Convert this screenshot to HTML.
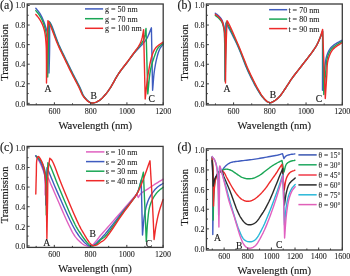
<!DOCTYPE html>
<html><head><meta charset="utf-8"><style>
html,body{margin:0;padding:0;background:#fff;width:350px;height:276px;overflow:hidden}
svg{display:block;filter:blur(0.3px)}
text{font-family:"Liberation Serif", serif;fill:#1a1a1a;stroke:#1a1a1a;stroke-width:0.08px}
.ax,.pl,.lb{stroke-width:0.15px}
.tk{font-size:8px}
.ax{font-size:10.6px}
.pl{font-size:11.8px}
.lg{font-size:8px}
.lb{font-size:9.6px}
.lgd{font-size:7.4px}
</style></head><body>
<svg width="350" height="276" viewBox="0 0 350 276">
<rect width="350" height="276" fill="#fff"/>
<path d="M35.80 8.20 36.46 9.02 37.13 9.84 37.81 10.65 38.47 11.47 39.10 12.32 39.70 13.20 40.28 14.14 40.83 15.11 41.35 16.11 41.85 17.12 42.33 18.15 42.80 19.20 43.27 20.30 43.72 21.41 44.15 22.53 44.57 23.69 44.98 24.91 45.40 26.20 45.97 27.98 46.58 29.87 47.18 31.85 47.74 33.91 48.23 36.03 48.60 38.20 48.87 40.82 48.98 43.55 48.99 46.37 48.95 49.24 48.90 52.13 48.90 55.00 48.93 57.96 48.95 60.95 48.96 63.96 48.97 66.98 48.99 69.99 49.00 73.00 49.11 69.19 49.22 65.42 49.34 61.65 49.44 57.84 49.53 53.97 49.60 50.00 49.64 45.47 49.65 40.81 49.64 36.08 49.63 31.31 49.61 26.53 49.60 21.80 49.84 22.19 50.07 22.53 50.30 22.88 50.55 23.27 50.81 23.73 51.10 24.30 52.09 26.62 53.31 29.84 54.69 33.62 56.14 37.63 57.60 41.54 59.00 45.00 60.15 47.62 61.31 50.12 62.48 52.54 63.65 54.92 64.83 57.30 66.00 59.70 67.16 62.11 68.33 64.52 69.50 66.93 70.67 69.32 71.84 71.68 73.00 74.00 74.10 76.15 75.22 78.28 76.34 80.39 77.44 82.46 78.50 84.50 79.50 86.50 80.31 88.27 81.05 90.05 81.76 91.81 82.48 93.50 83.24 95.07 84.10 96.50 84.87 97.56 85.69 98.57 86.54 99.51 87.41 100.35 88.27 101.09 89.10 101.70 89.67 102.06 90.22 102.36 90.76 102.61 91.32 102.80 91.89 102.93 92.50 103.00 93.27 102.98 94.08 102.87 94.92 102.67 95.76 102.40 96.60 102.07 97.40 101.70 98.25 101.23 99.06 100.70 99.87 100.09 100.67 99.42 101.48 98.69 102.30 97.90 103.40 96.78 104.52 95.56 105.65 94.24 106.79 92.82 107.94 91.31 109.10 89.70 110.65 87.32 112.22 84.65 113.81 81.81 115.41 78.92 117.04 76.11 118.70 73.50 120.27 71.27 121.90 69.10 123.56 66.99 125.19 64.95 126.75 62.98 128.20 61.10 129.24 59.68 130.21 58.32 131.13 57.00 132.05 55.72 132.99 54.46 134.00 53.20 135.10 51.95 136.26 50.72 137.44 49.52 138.63 48.32 139.79 47.12 140.90 45.90 141.93 44.74 142.95 43.60 143.95 42.45 144.91 41.28 145.83 40.03 146.70 38.70 147.60 37.05 148.41 35.28 149.17 33.43 149.91 31.54 150.64 29.65 151.40 27.80 152.60 90.30 152.90 86.88 153.17 83.41 153.44 79.95 153.73 76.53 154.08 73.20 154.50 70.00 154.93 67.29 155.41 64.59 155.93 61.95 156.48 59.44 157.04 57.10 157.60 55.00 157.97 53.73 158.33 52.56 158.70 51.46 159.09 50.43 159.52 49.45 160.00 48.50 160.47 47.71 160.99 46.97 161.54 46.27 162.10 45.58 162.65 44.90 163.20 44.20" stroke="#3f5cbf" stroke-width="1.4" fill="none" stroke-linejoin="round" stroke-linecap="round"/>
<path d="M35.80 10.60 36.46 11.42 37.13 12.24 37.81 13.05 38.47 13.87 39.10 14.72 39.70 15.60 40.28 16.54 40.84 17.51 41.36 18.50 41.87 19.52 42.35 20.55 42.80 21.60 43.24 22.70 43.66 23.80 44.04 24.93 44.41 26.09 44.76 27.31 45.10 28.60 45.54 30.39 45.96 32.31 46.37 34.31 46.73 36.39 47.05 38.49 47.30 40.60 47.48 42.88 47.57 45.18 47.60 47.52 47.60 49.92 47.59 52.41 47.60 55.00 47.63 58.40 47.66 61.99 47.67 65.71 47.68 69.49 47.69 73.28 47.70 77.00 47.80 72.51 47.91 68.03 48.01 63.55 48.12 59.06 48.21 54.55 48.30 50.00 48.38 45.25 48.45 40.47 48.51 35.66 48.57 30.83 48.64 26.01 48.70 21.20 48.94 21.59 49.17 21.93 49.40 22.28 49.64 22.67 49.91 23.13 50.20 23.70 51.23 26.08 52.52 29.39 53.97 33.30 55.51 37.43 57.05 41.45 58.50 45.00 59.67 47.63 60.83 50.13 62.00 52.55 63.16 54.93 64.33 57.30 65.50 59.70 66.66 62.11 67.83 64.52 69.00 66.93 70.17 69.32 71.34 71.68 72.50 74.00 73.60 76.15 74.72 78.28 75.83 80.39 76.93 82.46 77.99 84.50 79.00 86.50 79.83 88.27 80.59 90.06 81.33 91.81 82.08 93.50 82.87 95.07 83.75 96.50 84.54 97.56 85.38 98.57 86.25 99.51 87.13 100.35 88.01 101.09 88.85 101.70 89.42 102.06 89.97 102.36 90.52 102.61 91.07 102.80 91.64 102.93 92.25 103.00 93.03 102.99 93.86 102.87 94.71 102.67 95.58 102.40 96.43 102.07 97.25 101.70 98.12 101.24 98.96 100.70 99.80 100.09 100.62 99.42 101.45 98.69 102.30 97.90 103.41 96.79 104.53 95.57 105.66 94.24 106.80 92.82 107.94 91.31 109.10 89.70 110.65 87.32 112.23 84.65 113.81 81.81 115.42 78.93 117.05 76.12 118.70 73.50 120.25 71.27 121.86 69.10 123.48 66.99 125.08 64.95 126.62 62.98 128.05 61.10 129.10 59.68 130.09 58.32 131.04 57.02 131.97 55.74 132.90 54.47 133.85 53.20 134.80 51.96 135.77 50.73 136.74 49.51 137.69 48.30 138.62 47.10 139.50 45.90 140.29 44.83 141.08 43.81 141.84 42.79 142.56 41.74 143.22 40.62 143.80 39.40 144.35 37.78 144.77 36.02 145.10 34.16 145.39 32.26 145.67 30.36 146.00 28.50 147.80 93.90 148.21 89.85 148.59 85.72 148.96 81.58 149.37 77.53 149.87 73.64 150.50 70.00 151.12 67.21 151.82 64.50 152.57 61.89 153.36 59.42 154.14 57.12 154.90 55.00 155.39 53.64 155.84 52.38 156.30 51.19 156.79 50.08 157.35 49.01 158.00 48.00 158.74 47.09 159.57 46.26 160.46 45.48 161.39 44.73 162.31 43.98 163.20 43.20" stroke="#1aa655" stroke-width="1.4" fill="none" stroke-linejoin="round" stroke-linecap="round"/>
<path d="M35.80 14.40 36.46 15.22 37.13 16.04 37.81 16.85 38.47 17.67 39.10 18.52 39.70 19.40 40.28 20.34 40.85 21.31 41.38 22.30 41.89 23.31 42.36 24.35 42.80 25.40 43.22 26.50 43.59 27.60 43.93 28.72 44.24 29.89 44.53 31.11 44.80 32.40 45.11 34.21 45.38 36.18 45.60 38.23 45.79 40.33 45.96 42.40 46.10 44.40 46.20 46.14 46.27 47.79 46.32 49.42 46.35 51.12 46.37 52.95 46.40 55.00 46.44 58.89 46.47 63.35 46.48 68.17 46.48 73.17 46.49 78.18 46.50 83.00 46.60 77.48 46.69 71.93 46.78 66.37 46.88 60.85 46.99 55.38 47.10 50.00 47.22 45.03 47.35 40.13 47.49 35.29 47.62 30.47 47.76 25.65 47.90 20.80 48.14 21.19 48.37 21.53 48.60 21.88 48.84 22.27 49.10 22.73 49.40 23.30 50.46 25.72 51.80 29.10 53.31 33.08 54.91 37.30 56.51 41.39 58.00 45.00 59.18 47.63 60.34 50.14 61.51 52.56 62.67 54.93 63.83 57.30 65.00 59.70 66.16 62.11 67.33 64.52 68.50 66.93 69.67 69.32 70.84 71.68 72.00 74.00 73.10 76.15 74.21 78.28 75.32 80.39 76.41 82.47 77.48 84.50 78.50 86.50 79.35 88.27 80.13 90.06 80.90 91.81 81.67 93.50 82.50 95.08 83.40 96.50 84.21 97.56 85.07 98.57 85.96 99.51 86.86 100.36 87.75 101.09 88.60 101.70 89.17 102.05 89.72 102.36 90.27 102.61 90.82 102.80 91.39 102.93 92.00 103.00 92.79 102.99 93.63 102.87 94.50 102.67 95.39 102.40 96.26 102.07 97.10 101.70 97.99 101.24 98.86 100.70 99.72 100.10 100.58 99.43 101.43 98.69 102.30 97.90 103.42 96.79 104.54 95.57 105.67 94.25 106.80 92.82 107.94 91.31 109.10 89.70 110.66 87.32 112.23 84.65 113.82 81.81 115.43 78.93 117.06 76.12 118.70 73.50 120.23 71.28 121.81 69.10 123.40 66.99 124.97 64.95 126.48 62.98 127.90 61.10 128.95 59.68 129.95 58.33 130.91 57.02 131.85 55.75 132.78 54.48 133.70 53.20 134.60 51.97 135.50 50.75 136.40 49.53 137.26 48.32 138.07 47.11 138.80 45.90 139.39 44.83 139.93 43.79 140.42 42.75 140.88 41.68 141.30 40.57 141.70 39.40 142.11 37.92 142.45 36.36 142.75 34.73 143.03 33.08 143.30 31.42 143.60 29.80 145.20 99.00 145.65 94.97 146.07 90.91 146.48 86.85 146.93 82.83 147.43 78.86 148.00 75.00 148.59 71.43 149.21 67.81 149.87 64.24 150.59 60.84 151.36 57.72 152.20 55.00 152.75 53.48 153.29 52.11 153.85 50.85 154.47 49.69 155.18 48.58 156.00 47.50 157.01 46.45 158.15 45.49 159.39 44.60 160.68 43.75 161.96 42.89 163.20 42.00" stroke="#ee2a2a" stroke-width="1.4" fill="none" stroke-linejoin="round" stroke-linecap="round"/>
<path d="M215.30 13.20 215.84 13.61 216.38 14.00 216.92 14.39 217.46 14.80 217.98 15.23 218.50 15.70 219.07 16.27 219.65 16.89 220.22 17.54 220.76 18.21 221.26 18.90 221.70 19.60 222.06 20.28 222.36 20.98 222.63 21.69 222.87 22.41 223.09 23.15 223.30 23.90 223.52 24.69 223.71 25.49 223.89 26.31 224.05 27.14 224.19 28.00 224.30 28.90 224.40 30.01 224.45 31.14 224.47 32.32 224.47 33.54 224.48 34.83 224.50 36.20 224.55 38.19 224.60 40.28 224.66 42.50 224.71 44.85 224.76 47.34 224.80 50.00 224.85 54.33 224.89 59.15 224.92 64.28 224.94 69.57 224.97 74.87 225.00 80.00 225.08 74.98 225.17 69.94 225.25 64.89 225.34 59.87 225.42 54.90 225.50 50.00 225.57 45.45 225.64 40.95 225.70 36.51 225.77 32.08 225.83 27.65 225.90 23.20 226.09 23.48 226.27 23.72 226.44 23.97 226.63 24.25 226.85 24.58 227.10 25.00 228.25 27.05 229.83 29.98 231.67 33.51 233.62 37.37 235.55 41.29 237.30 45.00 239.02 48.94 240.71 53.10 242.37 57.34 243.98 61.49 245.53 65.39 247.00 68.90 247.98 71.10 248.90 73.12 249.79 75.03 250.68 76.86 251.57 78.67 252.50 80.50 253.42 82.28 254.35 84.06 255.30 85.82 256.24 87.53 257.18 89.16 258.10 90.70 258.82 91.87 259.52 92.98 260.21 94.05 260.92 95.07 261.64 96.05 262.40 97.00 263.14 97.88 263.92 98.76 264.71 99.61 265.51 100.39 266.31 101.06 267.10 101.60 267.68 101.92 268.26 102.18 268.84 102.39 269.43 102.53 270.01 102.60 270.60 102.60 271.24 102.49 271.89 102.27 272.54 101.97 273.19 101.61 273.84 101.21 274.50 100.80 275.30 100.27 276.10 99.69 276.91 99.05 277.71 98.36 278.51 97.61 279.30 96.80 280.26 95.70 281.21 94.48 282.15 93.18 283.09 91.81 284.04 90.41 285.00 89.00 286.08 87.38 287.14 85.73 288.22 84.02 289.33 82.27 290.51 80.47 291.80 78.60 293.69 76.01 295.83 73.21 298.09 70.31 300.34 67.45 302.45 64.77 304.30 62.40 305.38 61.01 306.36 59.76 307.28 58.58 308.18 57.43 309.07 56.25 310.00 55.00 311.07 53.55 312.17 52.05 313.28 50.52 314.36 48.97 315.38 47.43 316.30 45.90 317.05 44.52 317.74 43.13 318.37 41.73 318.97 40.35 319.54 39.00 320.10 37.70 320.56 36.62 320.99 35.57 321.39 34.55 321.79 33.54 322.19 32.52 322.60 31.50 322.50 90.30 322.83 86.87 323.15 83.37 323.47 79.88 323.80 76.45 324.14 73.13 324.50 70.00 324.78 67.58 325.04 65.22 325.30 62.95 325.61 60.77 326.00 58.68 326.50 56.70 327.00 55.14 327.54 53.63 328.14 52.19 328.80 50.83 329.52 49.56 330.30 48.40 331.02 47.51 331.80 46.72 332.62 45.99 333.48 45.31 334.37 44.65 335.30 44.00 336.36 43.31 337.49 42.66 338.65 42.04 339.84 41.43 341.03 40.82 342.20 40.20" stroke="#3f5cbf" stroke-width="1.4" fill="none" stroke-linejoin="round" stroke-linecap="round"/>
<path d="M215.30 15.50 215.84 15.91 216.38 16.30 216.92 16.69 217.46 17.10 217.98 17.53 218.50 18.00 219.07 18.57 219.65 19.19 220.22 19.84 220.76 20.51 221.26 21.20 221.70 21.90 222.06 22.58 222.36 23.28 222.63 23.99 222.87 24.71 223.09 25.45 223.30 26.20 223.51 26.99 223.71 27.79 223.88 28.61 224.04 29.44 224.18 30.30 224.30 31.20 224.42 32.31 224.50 33.47 224.56 34.66 224.61 35.89 224.65 37.17 224.70 38.50 224.76 40.20 224.82 41.93 224.87 43.73 224.92 45.65 224.96 47.72 225.00 50.00 225.05 54.35 225.09 59.35 225.12 64.78 225.15 70.42 225.17 76.07 225.20 81.50 225.28 76.23 225.36 70.93 225.43 65.63 225.51 60.36 225.60 55.14 225.70 50.00 225.80 45.24 225.92 40.54 226.04 35.90 226.16 31.27 226.28 26.65 226.40 22.00 226.59 22.28 226.77 22.52 226.94 22.77 227.13 23.04 227.35 23.38 227.60 23.80 228.76 25.96 230.32 29.07 232.16 32.84 234.11 36.95 236.04 41.10 237.80 45.00 239.50 48.98 241.19 53.16 242.85 57.39 244.47 61.52 246.02 65.40 247.50 68.90 248.48 71.10 249.40 73.12 250.30 75.03 251.19 76.86 252.08 78.67 253.00 80.50 253.91 82.28 254.83 84.06 255.75 85.82 256.68 87.53 257.60 89.16 258.50 90.70 259.20 91.87 259.89 92.98 260.57 94.04 261.25 95.07 261.96 96.05 262.70 97.00 263.42 97.88 264.17 98.76 264.93 99.61 265.71 100.39 266.48 101.06 267.25 101.60 267.81 101.91 268.36 102.17 268.91 102.38 269.47 102.53 270.03 102.60 270.60 102.60 271.24 102.49 271.88 102.28 272.53 101.98 273.19 101.62 273.84 101.21 274.50 100.80 275.30 100.27 276.10 99.69 276.91 99.05 277.71 98.36 278.51 97.61 279.30 96.80 280.26 95.70 281.21 94.48 282.15 93.18 283.09 91.81 284.04 90.41 285.00 89.00 286.08 87.38 287.14 85.73 288.22 84.02 289.33 82.27 290.51 80.47 291.80 78.60 293.69 76.01 295.83 73.21 298.09 70.31 300.34 67.45 302.45 64.77 304.30 62.40 305.38 61.01 306.36 59.76 307.28 58.58 308.18 57.43 309.07 56.25 310.00 55.00 311.07 53.55 312.17 52.05 313.28 50.52 314.36 48.97 315.38 47.43 316.30 45.90 317.05 44.52 317.74 43.14 318.38 41.75 318.98 40.38 319.55 39.03 320.10 37.70 320.56 36.55 320.99 35.43 321.40 34.32 321.80 33.21 322.19 32.11 322.60 31.00 323.80 94.50 324.12 90.68 324.43 86.79 324.75 82.89 325.06 79.07 325.38 75.42 325.70 72.00 325.91 69.52 326.07 67.13 326.24 64.85 326.45 62.65 326.75 60.54 327.20 58.50 327.69 56.79 328.26 55.11 328.89 53.49 329.59 51.96 330.36 50.56 331.20 49.30 331.95 48.41 332.75 47.63 333.60 46.92 334.49 46.27 335.39 45.64 336.30 45.00 337.24 44.35 338.21 43.74 339.21 43.15 340.21 42.57 341.21 41.99 342.20 41.40" stroke="#1aa655" stroke-width="1.4" fill="none" stroke-linejoin="round" stroke-linecap="round"/>
<path d="M215.30 14.30 215.84 14.71 216.38 15.10 216.92 15.49 217.46 15.90 217.98 16.33 218.50 16.80 219.07 17.37 219.65 17.99 220.22 18.64 220.76 19.31 221.26 20.00 221.70 20.70 222.06 21.38 222.36 22.08 222.63 22.79 222.87 23.51 223.09 24.25 223.30 25.00 223.51 25.79 223.70 26.59 223.87 27.41 224.02 28.24 224.16 29.10 224.30 30.00 224.45 31.11 224.59 32.25 224.71 33.43 224.82 34.66 224.91 35.95 225.00 37.30 225.09 39.14 225.16 41.05 225.20 43.06 225.24 45.20 225.27 47.50 225.30 50.00 225.35 54.60 225.39 59.85 225.42 65.53 225.45 71.43 225.47 77.32 225.50 83.00 225.58 77.48 225.65 71.93 225.71 66.38 225.79 60.85 225.88 55.39 226.00 50.00 226.14 45.02 226.30 40.10 226.47 35.24 226.65 30.40 226.83 25.56 227.00 20.70 227.19 20.97 227.37 21.22 227.55 21.46 227.74 21.74 227.95 22.07 228.20 22.50 229.35 24.77 230.90 28.09 232.70 32.11 234.63 36.50 236.54 40.91 238.30 45.00 239.98 49.03 241.66 53.22 243.33 57.44 244.96 61.55 246.52 65.41 248.00 68.90 248.98 71.10 249.91 73.12 250.81 75.03 251.69 76.86 252.58 78.67 253.50 80.50 254.39 82.28 255.30 84.06 256.21 85.81 257.12 87.53 258.02 89.16 258.90 90.70 259.59 91.87 260.26 92.98 260.92 94.04 261.59 95.06 262.28 96.05 263.00 97.00 263.70 97.88 264.42 98.76 265.16 99.61 265.91 100.39 266.66 101.06 267.40 101.60 267.93 101.91 268.46 102.17 268.99 102.37 269.52 102.52 270.05 102.60 270.60 102.60 271.23 102.50 271.88 102.28 272.53 101.98 273.18 101.62 273.84 101.22 274.50 100.80 275.30 100.27 276.10 99.69 276.91 99.05 277.71 98.36 278.51 97.61 279.30 96.80 280.26 95.70 281.21 94.48 282.15 93.18 283.09 91.81 284.04 90.41 285.00 89.00 286.08 87.38 287.14 85.73 288.22 84.02 289.33 82.27 290.51 80.47 291.80 78.60 293.69 76.01 295.83 73.21 298.09 70.31 300.34 67.45 302.45 64.77 304.30 62.40 305.38 61.01 306.36 59.76 307.28 58.58 308.18 57.43 309.07 56.25 310.00 55.00 311.07 53.55 312.17 52.05 313.28 50.52 314.36 48.97 315.38 47.43 316.30 45.90 317.05 44.54 317.75 43.18 318.39 41.82 318.99 40.45 319.56 39.08 320.10 37.70 320.59 36.33 321.02 34.95 321.43 33.57 321.81 32.18 322.20 30.79 322.60 29.40 325.30 98.50 325.55 94.52 325.80 90.46 326.06 86.40 326.31 82.41 326.56 78.59 326.80 75.00 326.94 72.35 327.02 69.80 327.10 67.34 327.23 64.98 327.48 62.70 327.90 60.50 328.41 58.61 329.02 56.74 329.71 54.93 330.48 53.23 331.32 51.67 332.20 50.30 332.92 49.40 333.68 48.61 334.49 47.90 335.31 47.25 336.15 46.63 337.00 46.00 337.84 45.40 338.70 44.83 339.57 44.29 340.45 43.77 341.33 43.24 342.20 42.70" stroke="#ee2a2a" stroke-width="1.4" fill="none" stroke-linejoin="round" stroke-linecap="round"/>
<path d="M35.60 155.80 36.28 156.83 36.97 157.85 37.67 158.87 38.34 159.90 38.99 160.94 39.60 162.00 40.15 163.06 40.67 164.12 41.16 165.20 41.62 166.29 42.07 167.39 42.50 168.50 42.93 169.59 43.34 170.63 43.74 171.69 44.10 172.81 44.42 174.03 44.70 175.40 45.01 178.07 45.15 181.17 45.19 184.56 45.18 188.09 45.16 191.61 45.20 195.00 45.27 192.75 45.30 190.41 45.33 188.06 45.40 185.82 45.54 183.76 45.80 182.00 46.01 181.00 46.26 179.98 46.53 179.04 46.83 178.25 47.15 177.71 47.50 177.50 48.02 177.86 48.62 178.84 49.25 180.25 49.91 181.89 50.57 183.54 51.20 185.00 51.81 186.35 52.39 187.65 52.96 188.97 53.56 190.37 54.23 191.93 55.00 193.70 56.85 197.98 59.13 203.29 61.65 209.14 64.22 215.03 66.67 220.48 68.80 225.00 69.93 227.29 70.98 229.38 71.98 231.31 72.96 233.10 73.96 234.75 75.00 236.30 75.82 237.39 76.65 238.41 77.49 239.34 78.33 240.22 79.17 241.03 80.00 241.80 80.67 242.40 81.33 242.96 81.98 243.49 82.64 243.97 83.31 244.41 84.00 244.80 84.65 245.12 85.31 245.42 85.98 245.67 86.65 245.88 87.33 246.02 88.00 246.10 88.67 246.11 89.35 246.07 90.03 245.98 90.71 245.82 91.36 245.60 92.00 245.30 92.71 244.83 93.40 244.24 94.07 243.56 94.72 242.82 95.36 242.05 96.00 241.30 96.68 240.47 97.33 239.61 97.98 238.71 98.63 237.80 99.30 236.89 100.00 236.00 100.75 235.10 101.50 234.26 102.27 233.41 103.09 232.52 103.99 231.53 105.00 230.40 107.30 227.78 110.06 224.64 113.10 221.16 116.27 217.53 119.39 213.94 122.30 210.60 124.79 207.74 127.23 204.93 129.63 202.16 132.02 199.41 134.40 196.67 136.80 193.90 138.30 197.50 138.72 196.83 139.12 196.15 139.51 195.48 139.93 194.80 140.42 194.14 141.00 193.50 141.94 192.68 143.04 191.88 144.25 191.10 145.52 190.34 146.79 189.57 148.00 188.80 149.16 188.03 150.31 187.26 151.46 186.50 152.62 185.74 153.80 184.97 155.00 184.20 156.31 183.37 157.65 182.54 159.01 181.71 160.38 180.87 161.74 180.03 163.10 179.20" stroke="#e060c0" stroke-width="1.4" fill="none" stroke-linejoin="round" stroke-linecap="round"/>
<path d="M35.80 155.70 36.43 156.48 37.06 157.25 37.70 158.02 38.32 158.80 38.93 159.62 39.50 160.50 40.12 161.55 40.71 162.64 41.28 163.79 41.82 164.98 42.33 166.21 42.80 167.50 43.31 169.05 43.78 170.63 44.20 172.28 44.58 174.03 44.91 175.93 45.20 178.00 45.53 181.76 45.69 186.06 45.75 190.71 45.75 195.53 45.75 200.35 45.80 205.00 45.90 201.65 46.00 198.28 46.10 194.91 46.20 191.55 46.30 188.25 46.40 185.00 46.50 182.06 46.60 179.17 46.70 176.32 46.80 173.49 46.90 170.65 47.00 167.80 47.24 168.30 47.47 168.77 47.69 169.24 47.93 169.75 48.20 170.32 48.50 171.00 49.31 172.90 50.26 175.23 51.34 177.91 52.53 180.85 53.83 183.97 55.20 187.20 57.68 192.89 60.62 199.59 63.80 206.72 66.98 213.72 69.92 220.00 72.40 225.00 73.46 227.01 74.43 228.77 75.34 230.34 76.22 231.78 77.10 233.15 78.00 234.50 78.76 235.59 79.51 236.63 80.27 237.62 81.02 238.56 81.77 239.45 82.50 240.30 83.09 240.96 83.66 241.59 84.23 242.19 84.81 242.76 85.39 243.29 86.00 243.80 86.59 244.28 87.18 244.76 87.79 245.22 88.41 245.62 89.05 245.92 89.70 246.10 90.39 246.14 91.10 246.07 91.83 245.91 92.56 245.66 93.29 245.36 94.00 245.00 94.85 244.46 95.68 243.80 96.51 243.03 97.33 242.20 98.16 241.35 99.00 240.50 99.95 239.56 100.88 238.62 101.81 237.65 102.79 236.60 103.84 235.43 105.00 234.10 107.41 231.20 110.20 227.72 113.21 223.86 116.33 219.85 119.40 215.89 122.30 212.20 124.94 208.96 127.72 205.65 130.47 202.39 133.01 199.28 135.18 196.45 136.80 194.00 137.37 192.96 137.80 192.03 138.14 191.17 138.42 190.34 138.69 189.46 139.00 188.50 139.40 187.22 139.77 185.87 140.13 184.46 140.48 183.03 140.84 181.60 141.20 180.20 142.50 235.00 142.81 231.62 143.08 228.19 143.36 224.76 143.67 221.38 144.04 218.11 144.50 215.00 144.95 212.49 145.44 210.03 145.97 207.65 146.56 205.37 147.20 203.21 147.90 201.20 148.50 199.74 149.13 198.38 149.80 197.09 150.50 195.86 151.23 194.67 152.00 193.50 152.76 192.41 153.54 191.34 154.35 190.32 155.20 189.33 156.08 188.39 157.00 187.50 157.95 186.71 158.94 185.98 159.97 185.30 161.02 184.64 162.07 183.98 163.10 183.30" stroke="#3f5cbf" stroke-width="1.4" fill="none" stroke-linejoin="round" stroke-linecap="round"/>
<path d="M36.40 156.30 37.06 156.90 37.74 157.48 38.41 158.05 39.07 158.65 39.71 159.29 40.30 160.00 40.92 160.87 41.51 161.80 42.06 162.78 42.58 163.81 43.06 164.89 43.50 166.00 43.96 167.30 44.37 168.59 44.73 169.95 45.05 171.43 45.34 173.09 45.60 175.00 46.00 180.00 46.20 186.20 46.26 193.20 46.25 200.60 46.24 208.00 46.30 215.00 46.39 209.95 46.48 204.84 46.56 199.72 46.66 194.67 46.77 189.74 46.90 185.00 47.04 181.09 47.20 177.32 47.37 173.64 47.55 170.01 47.73 166.38 47.90 162.70 48.16 162.97 48.41 163.21 48.66 163.45 48.92 163.72 49.20 164.06 49.50 164.50 50.55 166.53 51.78 169.41 53.16 172.92 54.66 176.84 56.25 180.94 57.90 185.00 60.52 191.26 63.54 198.47 66.74 206.06 69.91 213.41 72.83 219.92 75.30 225.00 76.29 226.83 77.19 228.39 78.04 229.76 78.85 231.02 79.67 232.24 80.50 233.50 81.26 234.66 82.02 235.81 82.77 236.92 83.52 238.00 84.27 239.03 85.00 240.00 85.59 240.75 86.18 241.48 86.76 242.17 87.34 242.83 87.92 243.44 88.50 244.00 88.96 244.45 89.40 244.89 89.84 245.31 90.29 245.67 90.77 245.94 91.30 246.10 92.00 246.12 92.77 245.98 93.59 245.73 94.41 245.37 95.23 244.95 96.00 244.50 96.87 243.84 97.73 243.02 98.56 242.11 99.38 241.18 100.19 240.28 101.00 239.50 101.66 238.98 102.28 238.56 102.89 238.18 103.53 237.75 104.23 237.21 105.00 236.50 107.27 233.92 110.02 230.36 113.07 226.18 116.24 221.71 119.38 217.30 122.30 213.30 124.92 209.91 127.65 206.51 130.35 203.15 132.87 199.91 135.07 196.84 136.80 194.00 137.60 192.38 138.22 190.88 138.70 189.46 139.12 188.04 139.54 186.57 140.00 185.00 140.59 183.00 141.16 180.91 141.72 178.75 142.28 176.55 142.84 174.36 143.40 172.20 146.30 241.50 146.54 237.86 146.76 234.14 146.99 230.43 147.23 226.79 147.49 223.29 147.80 220.00 148.05 217.55 148.28 215.19 148.54 212.91 148.84 210.73 149.22 208.63 149.70 206.60 150.20 204.93 150.76 203.32 151.38 201.77 152.05 200.28 152.76 198.85 153.50 197.50 154.17 196.38 154.88 195.31 155.62 194.29 156.39 193.32 157.18 192.39 158.00 191.50 158.80 190.72 159.64 190.00 160.50 189.31 161.37 188.65 162.24 187.98 163.10 187.30" stroke="#1aa655" stroke-width="1.4" fill="none" stroke-linejoin="round" stroke-linecap="round"/>
<path d="M35.80 194.00 35.88 190.81 35.96 187.61 36.03 184.40 36.11 181.21 36.20 178.07 36.30 175.00 36.36 172.09 36.39 169.04 36.42 166.03 36.51 163.23 36.69 160.83 37.00 159.00 37.18 158.39 37.37 157.81 37.58 157.31 37.81 156.90 38.05 156.62 38.30 156.50 38.56 156.56 38.84 156.76 39.13 157.08 39.42 157.47 39.72 157.89 40.00 158.30 40.38 158.88 40.76 159.53 41.14 160.23 41.50 161.00 41.86 161.82 42.20 162.70 42.68 164.10 43.14 165.64 43.58 167.30 43.99 169.06 44.37 170.90 44.70 172.80 45.05 175.29 45.31 177.86 45.52 180.56 45.69 183.44 45.84 186.57 46.00 190.00 46.24 196.66 46.42 204.34 46.55 212.71 46.66 221.42 46.77 230.13 46.90 238.50 47.02 232.03 47.13 225.49 47.25 218.95 47.37 212.48 47.48 206.14 47.60 200.00 47.67 194.62 47.71 189.21 47.75 183.90 47.82 178.84 47.96 174.16 48.20 170.00 48.41 167.72 48.66 165.66 48.94 163.76 49.23 161.93 49.52 160.10 49.80 158.20 50.16 158.55 50.51 158.85 50.86 159.15 51.22 159.50 51.60 159.93 52.00 160.50 53.30 162.98 54.77 166.49 56.38 170.73 58.11 175.42 59.93 180.27 61.80 185.00 64.47 191.45 67.49 198.69 70.66 206.21 73.76 213.45 76.61 219.90 79.00 225.00 79.97 226.91 80.84 228.56 81.66 230.02 82.44 231.37 83.21 232.67 84.00 234.00 84.69 235.18 85.38 236.34 86.06 237.47 86.73 238.55 87.38 239.56 88.00 240.50 88.43 241.14 88.85 241.74 89.25 242.31 89.66 242.84 90.07 243.34 90.50 243.80 90.87 244.18 91.24 244.55 91.62 244.90 92.02 245.20 92.44 245.44 92.90 245.60 93.51 245.67 94.18 245.63 94.89 245.51 95.61 245.31 96.32 245.07 97.00 244.80 97.70 244.45 98.38 244.01 99.04 243.51 99.70 242.99 100.35 242.48 101.00 242.00 101.58 241.63 102.12 241.32 102.66 241.02 103.22 240.67 103.82 240.22 104.50 239.60 106.78 236.94 109.60 233.10 112.75 228.49 116.04 223.54 119.29 218.67 122.30 214.30 124.92 210.67 127.63 206.99 130.30 203.38 132.80 199.94 135.01 196.78 136.80 194.00 137.56 192.71 138.17 191.61 138.69 190.60 139.17 189.57 139.69 188.41 140.30 187.00 141.68 183.62 143.23 179.52 144.90 174.96 146.62 170.16 148.34 165.36 150.00 160.80 150.43 168.23 150.86 175.74 151.30 183.24 151.72 190.67 152.13 197.95 152.50 205.00 152.80 211.00 153.08 216.82 153.34 222.52 153.59 228.16 153.84 233.80 154.10 239.50 154.40 237.25 154.70 235.01 154.99 232.76 155.29 230.51 155.62 228.26 156.00 226.00 156.42 223.67 156.87 221.31 157.35 218.95 157.86 216.60 158.41 214.28 159.00 212.00 159.61 209.86 160.28 207.77 160.98 205.69 161.69 203.63 162.40 201.57 163.10 199.50" stroke="#ee2a2a" stroke-width="1.4" fill="none" stroke-linejoin="round" stroke-linecap="round"/>
<path d="M212.10 158.00 212.19 159.89 212.28 161.65 212.37 163.40 212.45 165.29 212.53 167.45 212.60 170.00 212.71 177.78 212.77 187.70 212.78 199.05 212.78 211.10 212.78 223.16 212.80 234.50 212.88 228.64 212.95 222.65 213.01 216.66 213.10 210.81 213.22 205.21 213.40 200.00 213.54 196.21 213.65 192.48 213.79 188.90 213.99 185.57 214.31 182.57 214.80 180.00 215.15 178.74 215.52 177.61 215.93 176.59 216.40 175.66 216.91 174.80 217.50 174.00 218.10 173.37 218.79 172.84 219.52 172.37 220.25 171.91 220.96 171.44 221.60 170.90 222.13 170.32 222.62 169.70 223.08 169.06 223.53 168.42 223.99 167.80 224.50 167.20 225.04 166.62 225.60 166.04 226.17 165.48 226.76 164.95 227.37 164.45 228.00 164.00 228.61 163.62 229.23 163.28 229.86 162.97 230.52 162.70 231.23 162.44 232.00 162.20 233.15 161.92 234.41 161.69 235.76 161.50 237.16 161.34 238.58 161.18 240.00 161.00 241.60 160.79 243.25 160.60 244.93 160.41 246.63 160.22 248.32 160.02 250.00 159.80 251.67 159.57 253.34 159.33 255.00 159.09 256.67 158.83 258.33 158.57 260.00 158.30 261.68 158.02 263.38 157.72 265.07 157.41 266.75 157.10 268.40 156.80 270.00 156.50 271.41 156.25 272.82 156.01 274.20 155.77 275.54 155.52 276.81 155.27 278.00 155.00 278.83 154.78 279.60 154.55 280.34 154.31 281.05 154.07 281.77 153.84 282.50 153.60 283.90 158.50 284.23 158.07 284.55 157.62 284.87 157.18 285.20 156.75 285.57 156.35 286.00 156.00 286.56 155.67 287.19 155.39 287.86 155.16 288.57 154.96 289.28 154.77 290.00 154.60 290.78 154.43 291.59 154.30 292.41 154.20 293.24 154.10 294.08 154.01 294.90 153.90" stroke="#3f5cbf" stroke-width="1.4" fill="none" stroke-linejoin="round" stroke-linecap="round"/>
<path d="M212.10 157.50 212.22 159.49 212.35 161.36 212.47 163.23 212.59 165.21 212.70 167.43 212.80 170.00 212.94 176.40 213.03 184.20 213.08 192.92 213.12 202.10 213.15 211.28 213.20 220.00 213.28 215.76 213.34 211.43 213.41 207.10 213.49 202.86 213.61 198.80 213.80 195.00 213.96 192.19 214.12 189.45 214.30 186.81 214.54 184.33 214.86 182.04 215.30 180.00 215.65 178.79 216.04 177.68 216.46 176.65 216.93 175.70 217.44 174.82 218.00 174.00 218.54 173.36 219.13 172.78 219.76 172.25 220.39 171.76 221.02 171.31 221.60 170.90 222.01 170.61 222.41 170.33 222.79 170.08 223.18 169.85 223.58 169.66 224.00 169.50 224.47 169.37 224.95 169.27 225.44 169.20 225.95 169.17 226.47 169.17 227.00 169.20 227.63 169.28 228.29 169.40 228.96 169.56 229.64 169.77 230.32 170.02 231.00 170.30 231.81 170.71 232.63 171.20 233.46 171.76 234.29 172.34 235.14 172.93 236.00 173.50 236.96 174.14 237.94 174.83 238.94 175.52 239.95 176.19 240.97 176.79 242.00 177.30 242.98 177.69 243.97 178.03 244.97 178.32 245.98 178.55 246.99 178.71 248.00 178.80 249.00 178.82 250.01 178.78 251.01 178.67 252.02 178.50 253.02 178.28 254.00 178.00 255.02 177.64 256.04 177.21 257.04 176.71 258.04 176.17 259.02 175.60 260.00 175.00 261.02 174.33 262.03 173.60 263.02 172.84 264.01 172.05 265.00 171.27 266.00 170.50 267.00 169.74 267.99 168.97 268.99 168.20 269.98 167.43 270.99 166.70 272.00 166.00 273.00 165.36 274.03 164.73 275.06 164.13 276.08 163.55 277.06 163.01 278.00 162.50 278.71 162.13 279.39 161.78 280.05 161.46 280.69 161.14 281.34 160.83 282.00 160.50 284.00 172.00 284.38 170.61 284.73 169.14 285.08 167.67 285.46 166.28 285.92 165.03 286.50 164.00 286.99 163.41 287.52 162.92 288.10 162.50 288.71 162.13 289.34 161.81 290.00 161.50 290.75 161.21 291.55 160.98 292.38 160.80 293.22 160.64 294.07 160.48 294.90 160.30" stroke="#1aa655" stroke-width="1.4" fill="none" stroke-linejoin="round" stroke-linecap="round"/>
<path d="M212.10 157.50 212.26 159.17 212.42 160.76 212.58 162.34 212.73 164.01 212.88 165.87 213.00 168.00 213.18 172.96 213.28 178.91 213.35 185.52 213.39 192.46 213.44 199.39 213.50 206.00 213.60 203.31 213.68 200.58 213.76 197.85 213.86 195.16 214.00 192.53 214.20 190.00 214.41 187.82 214.63 185.64 214.88 183.50 215.18 181.48 215.54 179.62 216.00 178.00 216.34 177.08 216.72 176.24 217.12 175.48 217.55 174.78 218.01 174.12 218.50 173.50 218.97 172.93 219.48 172.36 220.02 171.81 220.56 171.36 221.09 171.04 221.60 170.90 222.01 170.95 222.43 171.11 222.83 171.38 223.23 171.71 223.62 172.09 224.00 172.50 224.53 173.18 225.02 174.01 225.49 174.93 225.97 175.93 226.46 176.96 227.00 178.00 227.75 179.39 228.56 180.88 229.40 182.43 230.26 183.99 231.13 185.53 232.00 187.00 232.81 188.32 233.62 189.64 234.44 190.93 235.27 192.18 236.12 193.37 237.00 194.50 237.79 195.46 238.58 196.40 239.40 197.29 240.23 198.12 241.09 198.87 242.00 199.50 242.86 199.99 243.76 200.41 244.69 200.76 245.63 201.03 246.57 201.21 247.50 201.30 248.42 201.29 249.34 201.18 250.26 200.99 251.18 200.73 252.10 200.39 253.00 200.00 254.03 199.45 255.04 198.79 256.05 198.04 257.05 197.22 258.03 196.37 259.00 195.50 260.04 194.52 261.07 193.48 262.09 192.39 263.09 191.27 264.06 190.14 265.00 189.00 265.88 187.88 266.72 186.74 267.53 185.58 268.33 184.41 269.15 183.21 270.00 182.00 270.99 180.61 272.03 179.16 273.08 177.69 274.11 176.24 275.10 174.83 276.00 173.50 276.65 172.51 277.27 171.54 277.85 170.61 278.41 169.71 278.96 168.84 279.50 168.00 279.94 167.34 280.36 166.71 280.77 166.10 281.18 165.50 281.59 164.91 282.00 164.30 284.20 190.00 284.55 187.94 284.86 185.81 285.17 183.68 285.52 181.62 285.95 179.70 286.50 178.00 286.97 176.89 287.48 175.85 288.03 174.88 288.63 174.00 289.29 173.20 290.00 172.50 290.72 171.97 291.51 171.54 292.35 171.19 293.21 170.87 294.06 170.55 294.90 170.20" stroke="#ee2a2a" stroke-width="1.4" fill="none" stroke-linejoin="round" stroke-linecap="round"/>
<path d="M212.10 160.50 212.22 162.94 212.34 165.41 212.47 167.87 212.59 170.31 212.70 172.70 212.80 175.00 212.88 176.92 212.95 178.78 213.01 180.59 213.07 182.39 213.14 184.18 213.20 186.00 213.41 184.97 213.62 183.90 213.83 182.83 214.05 181.80 214.27 180.85 214.50 180.00 214.66 179.51 214.82 179.05 214.98 178.63 215.14 178.24 215.32 177.86 215.50 177.50 215.65 177.23 215.81 176.99 215.98 176.77 216.15 176.54 216.32 176.29 216.50 176.00 216.78 175.42 217.06 174.71 217.36 173.94 217.69 173.19 218.06 172.52 218.50 172.00 218.96 171.64 219.48 171.31 220.04 171.03 220.61 170.85 221.14 170.80 221.60 170.90 222.12 171.37 222.53 172.18 222.87 173.24 223.20 174.45 223.56 175.74 224.00 177.00 224.85 179.02 225.85 181.30 226.92 183.74 228.01 186.24 229.06 188.69 230.00 191.00 230.74 192.92 231.44 194.82 232.11 196.68 232.75 198.51 233.38 200.28 234.00 202.00 234.51 203.41 235.00 204.77 235.47 206.09 235.95 207.39 236.45 208.69 237.00 210.00 237.60 211.37 238.23 212.76 238.89 214.15 239.57 215.51 240.28 216.80 241.00 218.00 241.63 218.96 242.27 219.90 242.93 220.79 243.61 221.62 244.30 222.36 245.00 223.00 245.55 223.44 246.10 223.84 246.65 224.19 247.23 224.47 247.84 224.68 248.50 224.80 249.47 224.82 250.54 224.71 251.67 224.47 252.82 224.10 253.95 223.61 255.00 223.00 256.27 221.96 257.48 220.63 258.65 219.10 259.78 217.43 260.89 215.70 262.00 214.00 263.23 212.09 264.43 210.10 265.60 208.04 266.75 205.92 267.88 203.74 269.00 201.50 270.24 198.86 271.47 196.05 272.68 193.16 273.85 190.30 274.96 187.55 276.00 185.00 276.75 183.17 277.45 181.40 278.12 179.70 278.76 178.07 279.39 176.50 280.00 175.00 280.48 173.86 280.93 172.79 281.38 171.76 281.82 170.74 282.26 169.73 282.70 168.70 284.40 205.00 284.73 202.80 285.04 200.56 285.35 198.31 285.68 196.11 286.05 193.99 286.50 192.00 286.90 190.43 287.30 188.91 287.73 187.45 288.22 186.06 288.80 184.74 289.50 183.50 290.29 182.45 291.19 181.49 292.18 180.60 293.20 179.74 294.22 178.89 295.20 178.00" stroke="#2a2a2a" stroke-width="1.4" fill="none" stroke-linejoin="round" stroke-linecap="round"/>
<path d="M212.10 156.50 212.60 157.23 213.11 157.95 213.62 158.66 214.11 159.40 214.58 160.17 215.00 161.00 215.43 162.02 215.81 163.07 216.15 164.18 216.46 165.36 216.74 166.62 217.00 168.00 217.34 170.34 217.60 172.92 217.79 175.72 217.94 178.69 218.07 181.80 218.20 185.00 218.35 189.51 218.43 194.37 218.48 199.47 218.52 204.69 218.55 209.90 218.60 215.00 218.72 210.82 218.84 206.63 218.96 202.43 219.08 198.26 219.19 194.11 219.30 190.00 219.34 185.59 219.32 180.59 219.29 175.62 219.31 171.29 219.46 168.21 219.80 167.00 220.04 167.21 220.31 167.82 220.61 168.72 220.93 169.80 221.26 170.93 221.60 172.00 222.11 173.56 222.67 175.28 223.24 177.12 223.83 179.04 224.42 181.01 225.00 183.00 225.66 185.35 226.30 187.79 226.96 190.30 227.62 192.85 228.29 195.42 229.00 198.00 229.79 200.79 230.60 203.63 231.43 206.51 232.28 209.38 233.14 212.22 234.00 215.00 234.80 217.60 235.60 220.22 236.41 222.80 237.24 225.32 238.10 227.73 239.00 230.00 239.76 231.82 240.52 233.63 241.31 235.37 242.13 236.97 243.02 238.37 244.00 239.50 244.76 240.15 245.56 240.69 246.39 241.13 247.24 241.46 248.12 241.68 249.00 241.80 249.97 241.81 250.98 241.70 252.02 241.47 253.04 241.12 254.05 240.63 255.00 240.00 256.29 238.77 257.51 237.17 258.68 235.28 259.80 233.23 260.91 231.10 262.00 229.00 263.24 226.55 264.44 223.98 265.60 221.30 266.74 218.56 267.87 215.78 269.00 213.00 270.22 209.95 271.45 206.79 272.66 203.58 273.84 200.40 274.96 197.35 276.00 194.50 276.75 192.41 277.46 190.41 278.13 188.48 278.77 186.61 279.39 184.79 280.00 183.00 280.50 181.51 280.98 180.07 281.44 178.67 281.89 177.29 282.34 175.90 282.80 174.50 284.50 225.00 284.81 221.59 285.11 218.09 285.40 214.59 285.71 211.18 286.07 207.95 286.50 205.00 286.85 203.01 287.22 201.13 287.61 199.35 288.03 197.65 288.49 196.04 289.00 194.50 289.44 193.32 289.90 192.18 290.39 191.10 290.90 190.08 291.44 189.11 292.00 188.20 292.50 187.50 293.02 186.86 293.56 186.26 294.11 185.68 294.66 185.10 295.20 184.50" stroke="#2ab8d8" stroke-width="1.4" fill="none" stroke-linejoin="round" stroke-linecap="round"/>
<path d="M212.10 156.50 212.54 157.08 213.00 157.62 213.45 158.17 213.90 158.75 214.32 159.38 214.70 160.10 215.18 161.26 215.60 162.54 215.98 163.94 216.31 165.45 216.62 167.07 216.90 168.80 217.27 171.72 217.55 174.95 217.75 178.44 217.91 182.15 218.05 186.02 218.20 190.00 218.38 195.57 218.52 201.57 218.62 207.86 218.71 214.29 218.80 220.71 218.90 227.00 219.00 220.74 219.11 214.37 219.22 208.00 219.32 201.74 219.41 195.71 219.50 190.00 219.51 185.15 219.45 179.86 219.39 174.72 219.39 170.30 219.50 167.20 219.80 166.00 220.03 166.26 220.30 167.00 220.60 168.08 220.93 169.37 221.26 170.72 221.60 172.00 222.11 173.86 222.66 175.91 223.23 178.10 223.82 180.38 224.41 182.70 225.00 185.00 225.64 187.58 226.27 190.23 226.91 192.94 227.57 195.66 228.27 198.35 229.00 201.00 229.79 203.57 230.64 206.16 231.52 208.73 232.40 211.24 233.24 213.68 234.00 216.00 234.55 217.77 235.05 219.44 235.53 221.05 236.00 222.66 236.48 224.29 237.00 226.00 237.62 228.05 238.24 230.20 238.89 232.39 239.56 234.54 240.26 236.60 241.00 238.50 241.61 239.94 242.22 241.36 242.85 242.71 243.52 243.96 244.23 245.07 245.00 246.00 245.60 246.59 246.23 247.11 246.88 247.56 247.56 247.92 248.27 248.17 249.00 248.30 249.93 248.28 250.93 248.10 251.97 247.77 253.02 247.30 254.04 246.71 255.00 246.00 256.28 244.72 257.50 243.10 258.67 241.23 259.80 239.20 260.91 237.09 262.00 235.00 263.24 232.56 264.44 230.00 265.61 227.35 266.76 224.62 267.88 221.83 269.00 219.00 270.24 215.76 271.47 212.36 272.69 208.89 273.86 205.45 274.97 202.12 276.00 199.00 276.76 196.66 277.46 194.42 278.13 192.25 278.77 190.13 279.39 188.06 280.00 186.00 280.53 184.19 281.04 182.42 281.53 180.68 282.02 178.96 282.51 177.24 283.00 175.50 284.60 238.00 284.90 233.93 285.18 229.79 285.46 225.64 285.76 221.58 286.10 217.67 286.50 214.00 286.85 211.23 287.20 208.55 287.59 205.97 288.01 203.50 288.47 201.17 289.00 199.00 289.43 197.47 289.89 196.02 290.37 194.65 290.88 193.35 291.42 192.14 292.00 191.00 292.49 190.18 293.01 189.43 293.55 188.74 294.11 188.07 294.66 187.40 295.20 186.70" stroke="#e060c0" stroke-width="1.4" fill="none" stroke-linejoin="round" stroke-linecap="round"/>
<text x="44.6" y="91.8" class="lb">A</text>
<text x="90.6" y="98.6" class="lb">B</text>
<text x="148.6" y="101.8" class="lb">C</text>
<text x="223.6" y="92.0" class="lb">A</text>
<text x="269.7" y="97.9" class="lb">B</text>
<text x="315.8" y="102.2" class="lb">C</text>
<text x="43.3" y="246.0" class="lb">A</text>
<text x="89.5" y="237.0" class="lb">B</text>
<text x="145.8" y="247.0" class="lb">C</text>
<text x="214.0" y="241.0" class="lb">A</text>
<text x="235.9" y="249.2" class="lb">B</text>
<text x="276.0" y="248.2" class="lb">C</text>
<text x="54.4" y="114" class="tk" text-anchor="middle">600</text>
<text x="90.67" y="114" class="tk" text-anchor="middle">800</text>
<text x="126.93" y="114" class="tk" text-anchor="middle">1000</text>
<text x="163.2" y="114" class="tk" text-anchor="middle">1200</text>
<text x="25.3" y="106.73" class="tk" text-anchor="end">0.0</text>
<text x="25.3" y="87.04" class="tk" text-anchor="end">0.2</text>
<text x="25.3" y="67.35" class="tk" text-anchor="end">0.4</text>
<text x="25.3" y="47.65" class="tk" text-anchor="end">0.6</text>
<text x="25.3" y="27.96" class="tk" text-anchor="end">0.8</text>
<text x="25.3" y="8.27" class="tk" text-anchor="end">1.0</text>
<path d="M54.4 104.8V102.3M90.67 104.8V102.3M126.93 104.8V102.3M163.2 104.8V102.3M36.27 104.8V103.3M72.53 104.8V103.3M108.8 104.8V103.3M145.07 104.8V103.3M27.2 103.33H29.7M27.2 83.76H29.7M27.2 64.19H29.7M27.2 44.61H29.7M27.2 25.04H29.7M27.2 5.47H29.7M27.2 93.55H28.7M27.2 73.97H28.7M27.2 54.4H28.7M27.2 34.83H28.7M27.2 15.25H28.7" stroke="#3a3a3a" stroke-width="1" fill="none"/>
<rect x="27.2" y="4" width="136" height="100.8" fill="none" stroke="#3a3a3a" stroke-width="1.3"/>
<text x="95.2" y="129" class="ax" text-anchor="middle">Wavelength (nm)</text>
<text x="0" y="0" class="ax" text-anchor="middle" transform="translate(8.3 52.4) rotate(-90)">Transmission</text>
<text x="0" y="9.3" class="pl">(a)</text>
<text x="233.58" y="114.1" class="tk" text-anchor="middle">600</text>
<text x="269.82" y="114.1" class="tk" text-anchor="middle">800</text>
<text x="306.06" y="114.1" class="tk" text-anchor="middle">1000</text>
<text x="342.3" y="114.1" class="tk" text-anchor="middle">1200</text>
<text x="204.5" y="106.83" class="tk" text-anchor="end">0.0</text>
<text x="204.5" y="87.12" class="tk" text-anchor="end">0.2</text>
<text x="204.5" y="67.41" class="tk" text-anchor="end">0.4</text>
<text x="204.5" y="47.69" class="tk" text-anchor="end">0.6</text>
<text x="204.5" y="27.98" class="tk" text-anchor="end">0.8</text>
<text x="204.5" y="8.27" class="tk" text-anchor="end">1.0</text>
<path d="M233.58 104.9V102.4M269.82 104.9V102.4M306.06 104.9V102.4M342.3 104.9V102.4M215.46 104.9V103.4M251.7 104.9V103.4M287.94 104.9V103.4M324.18 104.9V103.4M206.4 103.43H208.9M206.4 83.84H208.9M206.4 64.25H208.9M206.4 44.65H208.9M206.4 25.06H208.9M206.4 5.47H208.9M206.4 93.63H207.9M206.4 74.04H207.9M206.4 54.45H207.9M206.4 34.86H207.9M206.4 15.27H207.9" stroke="#3a3a3a" stroke-width="1" fill="none"/>
<rect x="206.4" y="4" width="135.9" height="100.9" fill="none" stroke="#3a3a3a" stroke-width="1.3"/>
<text x="274.35" y="129.1" class="ax" text-anchor="middle">Wavelength (nm)</text>
<text x="0" y="0" class="ax" text-anchor="middle" transform="translate(187.5 52.45) rotate(-90)">Transmission</text>
<text x="177.6" y="8.6" class="pl">(b)</text>
<text x="54.3" y="256.6" class="tk" text-anchor="middle">600</text>
<text x="90.57" y="256.6" class="tk" text-anchor="middle">800</text>
<text x="126.83" y="256.6" class="tk" text-anchor="middle">1000</text>
<text x="163.1" y="256.6" class="tk" text-anchor="middle">1200</text>
<text x="25.2" y="249.33" class="tk" text-anchor="end">0.0</text>
<text x="25.2" y="229.6" class="tk" text-anchor="end">0.2</text>
<text x="25.2" y="209.87" class="tk" text-anchor="end">0.4</text>
<text x="25.2" y="190.13" class="tk" text-anchor="end">0.6</text>
<text x="25.2" y="170.4" class="tk" text-anchor="end">0.8</text>
<text x="25.2" y="150.67" class="tk" text-anchor="end">1.0</text>
<path d="M54.3 247.4V244.9M90.57 247.4V244.9M126.83 247.4V244.9M163.1 247.4V244.9M36.17 247.4V245.9M72.43 247.4V245.9M108.7 247.4V245.9M144.97 247.4V245.9M27.1 245.93H29.6M27.1 226.32H29.6M27.1 206.71H29.6M27.1 187.09H29.6M27.1 167.48H29.6M27.1 147.87H29.6M27.1 236.12H28.6M27.1 216.51H28.6M27.1 196.9H28.6M27.1 177.29H28.6M27.1 157.68H28.6" stroke="#3a3a3a" stroke-width="1" fill="none"/>
<rect x="27.1" y="146.4" width="136" height="101" fill="none" stroke="#3a3a3a" stroke-width="1.3"/>
<text x="95.1" y="271.6" class="ax" text-anchor="middle">Wavelength (nm)</text>
<text x="0" y="0" class="ax" text-anchor="middle" transform="translate(8.2 194.9) rotate(-90)">Transmission</text>
<text x="0" y="151.4" class="pl">(c)</text>
<text x="224.13" y="259.2" class="tk" text-anchor="middle">600</text>
<text x="247.76" y="259.2" class="tk" text-anchor="middle">800</text>
<text x="271.4" y="259.2" class="tk" text-anchor="middle">1000</text>
<text x="295.03" y="259.2" class="tk" text-anchor="middle">1200</text>
<text x="318.67" y="259.2" class="tk" text-anchor="middle">1400</text>
<text x="342.3" y="259.2" class="tk" text-anchor="middle">1600</text>
<text x="204.5" y="251.93" class="tk" text-anchor="end">0.0</text>
<text x="204.5" y="232.16" class="tk" text-anchor="end">0.2</text>
<text x="204.5" y="212.39" class="tk" text-anchor="end">0.4</text>
<text x="204.5" y="192.61" class="tk" text-anchor="end">0.6</text>
<text x="204.5" y="172.84" class="tk" text-anchor="end">0.8</text>
<text x="204.5" y="153.07" class="tk" text-anchor="end">1.0</text>
<path d="M224.13 250V247.5M247.76 250V247.5M271.4 250V247.5M295.03 250V247.5M318.67 250V247.5M342.3 250V247.5M212.31 250V248.5M235.94 250V248.5M259.58 250V248.5M283.21 250V248.5M306.85 250V248.5M330.48 250V248.5M206.4 248.53H208.9M206.4 228.88H208.9M206.4 209.23H208.9M206.4 189.57H208.9M206.4 169.92H208.9M206.4 150.27H208.9M206.4 238.7H207.9M206.4 219.05H207.9M206.4 199.4H207.9M206.4 179.75H207.9M206.4 160.1H207.9" stroke="#3a3a3a" stroke-width="1" fill="none"/>
<rect x="206.4" y="148.8" width="135.9" height="101.2" fill="none" stroke="#3a3a3a" stroke-width="1.3"/>
<text x="274.35" y="274.2" class="ax" text-anchor="middle">Wavelength (nm)</text>
<text x="0" y="0" class="ax" text-anchor="middle" transform="translate(187.5 197.4) rotate(-90)">Transmission</text>
<text x="177.6" y="151.2" class="pl">(d)</text>
<path d="M85 8.9H103.1" stroke="#3f5cbf" stroke-width="1.5"/>
<text x="104.9" y="11.9" class="lg">g = 50 nm</text>
<path d="M85 18.7H103.1" stroke="#1aa655" stroke-width="1.5"/>
<text x="104.9" y="21.7" class="lg">g = 70 nm</text>
<path d="M85 28.3H103.1" stroke="#ee2a2a" stroke-width="1.5"/>
<text x="104.9" y="31.3" class="lg">g = 100 nm</text>
<path d="M269.1 9.7H287.2" stroke="#3f5cbf" stroke-width="1.5"/>
<text x="288.4" y="12.7" class="lg">t = 70 nm</text>
<path d="M269.1 19.1H287.2" stroke="#1aa655" stroke-width="1.5"/>
<text x="288.4" y="22.1" class="lg">t = 80 nm</text>
<path d="M269.1 28.6H287.2" stroke="#ee2a2a" stroke-width="1.5"/>
<text x="288.4" y="31.6" class="lg">t = 90 nm</text>
<path d="M86 151.9H104.4" stroke="#e060c0" stroke-width="1.5"/>
<text x="105.7" y="154.9" class="lg">s = 10 nm</text>
<path d="M86 161.6H104.4" stroke="#3f5cbf" stroke-width="1.5"/>
<text x="105.7" y="164.6" class="lg">s = 20 nm</text>
<path d="M86 171.2H104.4" stroke="#1aa655" stroke-width="1.5"/>
<text x="105.7" y="174.2" class="lg">s = 30 nm</text>
<path d="M86 180.7H104.4" stroke="#ee2a2a" stroke-width="1.5"/>
<text x="105.7" y="183.7" class="lg">s = 40 nm</text>
<path d="M298.4 154.9H316.7" stroke="#3a55b0" stroke-width="1.5"/>
<text x="318.6" y="157.9" class="lgd">θ = 15°</text>
<path d="M298.4 164.8H316.7" stroke="#20a860" stroke-width="1.5"/>
<text x="318.6" y="167.8" class="lgd">θ = 30°</text>
<path d="M298.4 175H316.7" stroke="#f03a48" stroke-width="1.5"/>
<text x="318.6" y="178" class="lgd">θ = 45°</text>
<path d="M298.4 184.9H316.7" stroke="#2a2a2a" stroke-width="1.5"/>
<text x="318.6" y="187.9" class="lgd">θ = 60°</text>
<path d="M298.4 194.8H316.7" stroke="#2ab8d8" stroke-width="1.5"/>
<text x="318.6" y="197.8" class="lgd">θ = 75°</text>
<path d="M298.4 204.6H316.7" stroke="#e060b8" stroke-width="1.5"/>
<text x="318.6" y="207.6" class="lgd">θ = 90°</text>
</svg>
</body></html>
